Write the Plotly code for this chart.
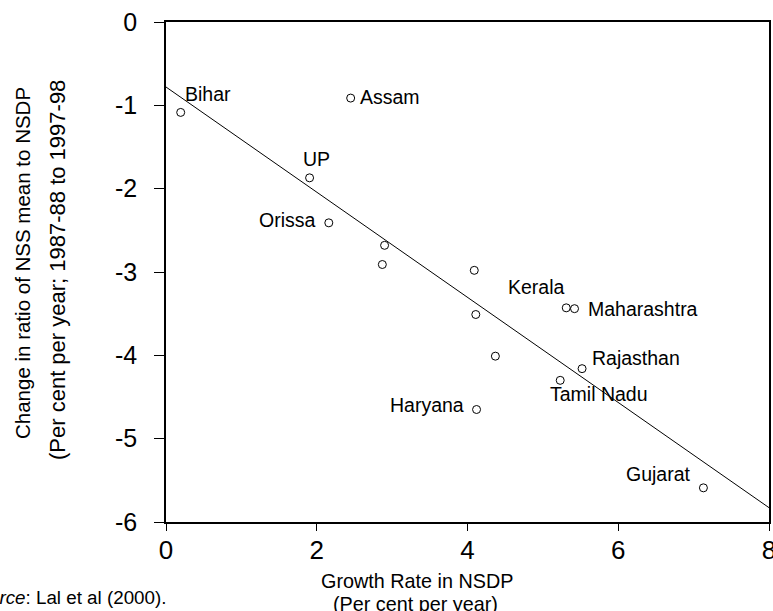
import plotly.graph_objects as go

# ---- data ----
growth_nsdp = [0.195, 2.45, 1.905, 2.16, 2.90, 2.87, 4.09, 4.11, 4.37, 5.31, 5.42, 5.52, 5.23, 4.12, 7.13]
ratio_change = [-1.085, -0.913, -1.87, -2.41, -2.68, -2.91, -2.98, -3.51, -4.01, -3.43, -3.44, -4.16, -4.30, -4.65, -5.59]
state_names = ["Bihar", "Assam", "UP", "Orissa", "", "", "", "", "", "Kerala", "Maharashtra", "Rajasthan",
               "Tamil Nadu", "Haryana", "Gujarat"]
fit_intercept = -0.78
fit_slope = -0.631
x_ticks = [0, 2, 4, 6, 8]
x_tick_labels = ["0", "2", "4", "6", "8"]
y_ticks = [0, -1, -2, -3, -4, -5, -6]
y_tick_labels = ["0", "-1", "-2", "-3", "-4", "-5", "-6"]

# label placement (pixel offsets from each point)
label_style = {
    "Bihar": ("left", 2, 18),
    "Assam": ("left", 7, 1),
    "UP": ("center", 7, 19),
    "Orissa": ("right", -12, 3),
    "Kerala": ("right", 1, 21),
    "Maharashtra": ("left", 11, 0),
    "Rajasthan": ("left", 8, 11),
    "Tamil Nadu": ("left", -12, -14),
    "Haryana": ("right", -11, 5),
    "Gujarat": ("right", -10, 14),
}

FONT = "Liberation Sans, Arial, Helvetica, sans-serif"
W, H = 773, 611
ML, MR, MT, MB = 166, 4, 22, 89
PW, PH = W - ML - MR, H - MT - MB


def px_to_paper(px, py):
    return (px - ML) / PW, (H - MB - py) / PH


fig = go.Figure()

x_range = [x_ticks[0], x_ticks[-1]]
fig.add_trace(go.Scatter(
    x=x_range,
    y=[fit_intercept + fit_slope * v for v in x_range],
    mode="lines", line=dict(color="black", width=1), hoverinfo="skip", showlegend=False,
    cliponaxis=False,
))

fig.add_trace(go.Scatter(
    x=growth_nsdp, y=ratio_change, mode="markers",
    marker=dict(symbol="circle-open", size=8, color="black", line=dict(width=1)),
    showlegend=False, cliponaxis=False,
))

annotations = []
for xv, yv, name in zip(growth_nsdp, ratio_change, state_names):
    if not name:
        continue
    anchor, dx, dy = label_style[name]
    annotations.append(dict(
        x=xv, y=yv, xref="x", yref="y", text=name, showarrow=False,
        xanchor=anchor, yanchor="middle", xshift=dx, yshift=dy,
        font=dict(family=FONT, size=19.5, color="black"),
    ))


def add_text(px, py, text, size, angle=0, anchor="center"):
    ax, ay = px_to_paper(px, py)
    annotations.append(dict(x=ax, y=ay, xref="paper", yref="paper", showarrow=False, textangle=angle,
                            text=text, xanchor=anchor, yanchor="middle",
                            font=dict(family=FONT, size=size, color="black")))


# axis titles and source
add_text(22, 263, "Change in ratio of NSS mean to NSDP", 20.5, angle=-90)
add_text(57, 270, "(Per cent per year; 1987-88 to 1997-98", 22, angle=-90)
add_text(417, 581, "Growth Rate in NSDP", 19.8)
add_text(415, 604, "(Per cent per year)", 19.8)
add_text(168, 597, "<i>Source</i>: Lal et al (2000).", 18.8, anchor="right")

fig.update_layout(
    width=W, height=H,
    margin=dict(l=ML, r=MR, t=MT, b=MB, autoexpand=False),
    paper_bgcolor="white", plot_bgcolor="white",
    showlegend=False,
    annotations=annotations,
    font=dict(family=FONT, color="black"),
)
fig.update_xaxes(
    range=x_range, tickvals=x_ticks, ticktext=x_tick_labels,
    showgrid=False, zeroline=False, showline=True, mirror=True, linecolor="black", linewidth=1.5,
    ticks="outside", ticklen=7, tickwidth=1, tickcolor="black",
    tickfont=dict(family=FONT, size=26, color="black"),
    automargin=False, ticklabeloverflow="allow", ticklabelstandoff=-3,
)
fig.update_yaxes(
    range=[y_ticks[-1], y_ticks[0]], tickvals=y_ticks, ticktext=y_tick_labels,
    showgrid=False, zeroline=False, showline=True, mirror=True, linecolor="black", linewidth=1.5,
    ticks="outside", ticklen=10, tickwidth=1, tickcolor="black",
    tickfont=dict(family=FONT, size=25, color="black"),
    automargin=False, ticklabeloverflow="allow", ticklabelstandoff=12,
)

fig.write_html("out.html", config={"displayModeBar": False},
               post_script="document.body.style.margin='0';")
